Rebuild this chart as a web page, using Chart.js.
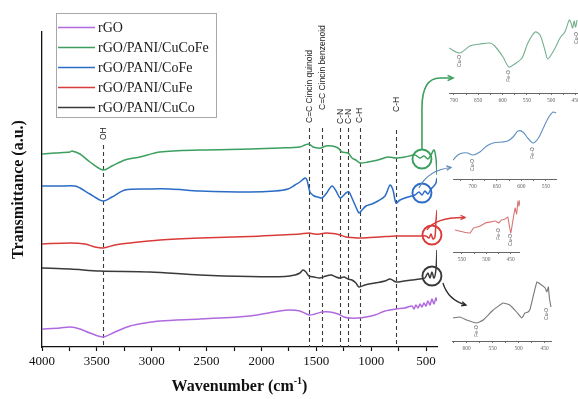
<!DOCTYPE html>
<html>
<head>
<meta charset="utf-8">
<script src="https://cdn.jsdelivr.net/npm/chart.js@4.4.1/dist/chart.umd.min.js"></script>
<style>
  html, body { margin: 0; padding: 0; background: #fff; }
  #wrap { position: relative; width: 578px; height: 399px; overflow: hidden; background: #fff; }
  #wrap canvas { position: absolute; }
</style>
</head>
<body>
<div id="wrap">
  <canvas id="main" width="578" height="399" style="left:0;top:0;width:578px;height:399px"></canvas>
  <canvas id="inG" width="129" height="91" style="left:449px;top:14px;width:129px;height:91px"></canvas>
  <canvas id="inB" width="104" height="86" style="left:453px;top:105px;width:104px;height:86px"></canvas>
  <canvas id="inR" width="67" height="68" style="left:453px;top:196px;width:67px;height:68px"></canvas>
  <canvas id="inK" width="100" height="77" style="left:452px;top:276px;width:100px;height:77px"></canvas>
</div>
<script>
// ---------- FTIR spectra (wavenumber in cm-1, transmittance in a.u., stacked) ----------
const seriesNames = ['rGO', 'rGO/PANI/CuCoFe', 'rGO/PANI/CoFe', 'rGO/PANI/CuFe', 'rGO/PANI/CuCo'];

const rgoWn = [4000,3836,3745,3654,3563,3444,3335,3198,3061,2925,2560,2104,1831,1740,1649,1567,1512,1448,1375,1302,1248,1193,1120,1047,965,874,774,692,628,610,592,573,555,537,519,501,483,464,446,428,410,400];
const rgoT  = [18,19,20,18,14,10,15,21,24,26,28,31,36,37,36,32,33,35,35,33,30,29,29,30,32,36,38,39,41,38,42,39,43,40,44,41,46,42,48,43,49,46];

const cucofeWn = [4000,3882,3745,3727,3654,3563,3444,3362,3244,3107,2925,2560,2104,1831,1649,1603,1567,1530,1485,1457,1412,1357,1302,1266,1211,1175,1139,1102,1029,938,847,774,692,601,555,519,483,455,428,410,400];
const cucofeT  = [193,194,195,196,193,185,177,181,187,190,195,197,198,199,200,202,203,200,199,199,201,201,199,195,194,189,187,184,185,187,190,189,190,192,189,191,188,192,197,189,172];

const cofeWn = [4000,3836,3699,3654,3563,3444,3362,3244,3016,2833,2560,2104,1876,1758,1694,1649,1603,1585,1558,1521,1485,1448,1412,1357,1320,1284,1257,1230,1202,1175,1139,1111,1084,1047,992,938,874,828,801,774,737,664,601,564,537,510,483,455,428,410,400];
const cofeT  = [161,161,161,159,153,146,150,157,158,158,156,155,156,158,162,165,169,167,155,151,150,149,153,161,156,149,151,154,155,149,140,134,137,141,143,146,151,162,157,144,147,150,152,155,152,156,153,158,161,164,169];

const cufeWn = [4000,3745,3608,3517,3444,3335,3198,2925,2560,2104,1831,1649,1567,1521,1467,1412,1348,1284,1230,1175,1102,1011,920,774,646,555,501,473,455,437,419,410,400];
const cufeT  = [103,104,103,100,99,102,104,107,109,110.5,112,113,114,113,113,114,113.5,112,110,109.5,109,109.5,110,111,111,111,111,109,113,108,110,125,137];

const cucoWn = [4000,3745,3471,3016,2560,2104,1785,1694,1649,1621,1594,1567,1521,1467,1412,1366,1320,1284,1248,1211,1175,1139,1111,1056,965,874,828,774,701,628,555,510,483,464,446,428,410,400];
const cucoT  = [79,78,76,75,72,70.5,70.5,72,74,77,75,71,70,69,71,72,70,69,70,68,67,64,60,62,64,66,68,65,66,67,68,69,74,69,75,69,77,97];

// x-axis labels
const xTickLabels = [4000, 3500, 3000, 2500, 2000, 1500, 1000, 500];

// band assignments (dashed guides)
const bandWn     = [3445, 1565, 1450, 1280, 1210, 1105, 770];
const bandLabels = ['OH', 'C=C Cincin quinoid', 'C=C Cincin benzenoid', 'C-N', 'C-N', 'C-H', 'C-H'];

// highlighted low-wavenumber regions, one per composite
const ringWn = [537, 537, 446, 446];
const ringT  = [188, 154, 112, 71];

// enlarged 450-750 cm-1 regions
const zoomCucofeWn = [710,688,667,646,626,616,599,587,575,560,548,533,523,513,507,492,482,472,463,460,456,453,450,447];
const zoomCucofeT  = [45,40,47,49,50,47,36,26,29,35,50,61,58,43,34,45,55,61,73,71,65,72,66,73];
const zoomCofeWn   = [740,730,720,710,699,685,671,658,640,628,617,607,597,587,576,565,555,545,535,529];
const zoomCofeT    = [19,24,26,26,24,27,33,36,37,38,42,48,47,41,36,41,51,61,67,66];
const zoomCufeWn   = [564,547,533,526,512,502,492,481,475,469,461,456,450,446,441,438,435,433,431];
const zoomCufeT    = [22,20,19,24,26,29,30,31,29,32,33,35,19,30,44,38,51,46,52];
const zoomCucoWn   = [626,613,600,581,568,549,530,517,504,494,488,482,478,465,456,449,446,443,441,438];
const zoomCucoT    = [23,24,21,18,21,31,38,36,29,23,28,29,32,59,56,53,49,54,43,34];

// metal-oxygen band labels in the enlarged regions
const mOcucofeWn = [688, 587, 447];  const mOcucofeTxt = ['Cu-O', 'Fe-O', 'Cu-O'];
const mOcofeWn   = [699, 576];       const mOcofeTxt   = ['Cu-O', 'Fe-O'];
const mOcufeWn   = [475, 450];       const mOcufeTxt   = ['Fe-O', 'Cu-O'];
const mOcucoWn   = [581, 446];       const mOcucoTxt   = ['Fe-O', 'Cu-O'];

// ---------- styling ----------
const COLORS = ['#b06ae0', '#3c9f5e', '#2b6cc6', '#d93b3b', '#3a3a3a'];
const ZOOM_COLORS = ['#74b08f', '#5f8fc0', '#d87474', '#777777'];
const SERIF = '"Liberation Serif", "Times New Roman", Times, serif';
const SANS = '"Liberation Sans", Arial, Helvetica, sans-serif';

const bandLineTop = [202, 219, 219, 219, 219, 219, 217];   // where each dashed guide starts (a.u.)
const bandTextEnd = [207, 224, 237, 223, 223, 224, 235];   // lower end of each rotated label (a.u.)

const pairs = (wn, t) => wn.map((w, i) => ({ x: w, y: t[i] }));

// tick marks every `step` inside [lo, hi]
function stepTicks(lo, hi, step) {
  const out = [];
  for (let v = Math.ceil(lo / step) * step; v <= hi; v += step) out.push({ value: v });
  return out;
}

const mainSeries = [
  [rgoWn, rgoT], [cucofeWn, cucofeT], [cofeWn, cofeT], [cufeWn, cufeT], [cucoWn, cucoT]
];

function arrowHead(ctx, x, y, dx, dy, size) {
  const a = Math.atan2(dy, dx);
  ctx.beginPath();
  ctx.moveTo(x - size * Math.cos(a - 0.45), y - size * Math.sin(a - 0.45));
  ctx.lineTo(x, y);
  ctx.lineTo(x - size * Math.cos(a + 0.45), y - size * Math.sin(a + 0.45));
  ctx.stroke();
}

const mainDecor = {
  id: 'mainDecor',
  beforeDatasetsDraw(chart) {
    const { ctx, scales: { x, y }, chartArea } = chart;
    ctx.save();
    ctx.strokeStyle = '#3a3a3a';
    ctx.lineWidth = 1.1;
    ctx.setLineDash([4, 3]);
    bandWn.forEach((wn, i) => {
      const px = Math.round(x.getPixelForValue(wn)) + 0.5;
      ctx.beginPath();
      ctx.moveTo(px, y.getPixelForValue(bandLineTop[i]));
      ctx.lineTo(px, chartArea.bottom);
      ctx.stroke();
    });
    ctx.setLineDash([]);
    ctx.fillStyle = '#222';
    ctx.font = '8.5px ' + SANS;
    ctx.textAlign = 'left';
    ctx.textBaseline = 'middle';
    bandLabels.forEach((t, i) => {
      ctx.save();
      ctx.translate(x.getPixelForValue(bandWn[i]) + 0.5, y.getPixelForValue(bandTextEnd[i]));
      ctx.rotate(-Math.PI / 2);
      ctx.fillText(t, 0, 0);
      ctx.restore();
    });
    ctx.restore();
  },
  afterDatasetsDraw(chart) {
    const { ctx, scales: { x, y } } = chart;
    ctx.save();
    const r = 9.5;
    const centres = ringWn.map((w, i) => [x.getPixelForValue(w), y.getPixelForValue(ringT[i])]);
    centres.forEach(([cx, cy], i) => {
      ctx.strokeStyle = COLORS[i + 1];
      ctx.lineWidth = 1.9;
      ctx.beginPath();
      ctx.arc(cx, cy, r, 0, Math.PI * 2);
      ctx.stroke();
    });
    // leader arrows towards the enlarged regions
    // CuCoFe
    let [cx, cy] = centres[0];
    ctx.strokeStyle = COLORS[1];
    ctx.lineWidth = 1.6;
    ctx.beginPath();
    ctx.moveTo(cx, cy - r);
    ctx.lineTo(cx, 108);
    ctx.quadraticCurveTo(cx, 78, cx + 18, 78);
    ctx.lineTo(453, 78);
    ctx.stroke();
    arrowHead(ctx, 453, 78, 1, 0, 6);
    // CoFe
    [cx, cy] = centres[1];
    ctx.strokeStyle = '#5a86b8';
    ctx.lineWidth = 1.2;
    ctx.beginPath();
    ctx.moveTo(cx - 3, cy - 5);
    ctx.quadraticCurveTo(cx + 6, cy - 23, 451, 167.5);
    ctx.stroke();
    arrowHead(ctx, 451, 167.5, 451 - (cx + 6), 167.5 - (cy - 23), 5);
    // CuFe
    [cx, cy] = centres[2];
    ctx.strokeStyle = COLORS[3];
    ctx.lineWidth = 1.3;
    ctx.beginPath();
    ctx.moveTo(cx - 5, cy - 5);
    ctx.quadraticCurveTo(cx + 4, cy - 18, 465, 217.5);
    ctx.stroke();
    arrowHead(ctx, 465, 217.5, 465 - (cx + 4), 217.5 - (cy - 18), 5);
    // CuCo
    [cx, cy] = centres[3];
    ctx.strokeStyle = '#2a2a2a';
    ctx.lineWidth = 1.3;
    ctx.beginPath();
    ctx.moveTo(cx + 11, cy + 7);
    ctx.quadraticCurveTo(cx + 16, cy + 24, 466, 305);
    ctx.stroke();
    arrowHead(ctx, 466, 305, 466 - (cx + 16), 305 - (cy + 24), 5);
    ctx.restore();
  },
  afterDraw(chart) {
    const { ctx, chartArea } = chart;
    ctx.save();
    // legend
    ctx.fillStyle = '#fff';
    ctx.fillRect(56, 13, 160, 104);
    ctx.strokeStyle = '#a8a8a8';
    ctx.lineWidth = 1;
    ctx.strokeRect(56.5, 13.5, 160, 104);
    ctx.font = '14px ' + SERIF;
    ctx.textBaseline = 'middle';
    ctx.textAlign = 'left';
    chart.data.datasets.forEach((ds, i) => {
      const yy = 27 + i * 20;
      ctx.strokeStyle = ds.borderColor;
      ctx.lineWidth = 1.6;
      ctx.beginPath();
      ctx.moveTo(58, yy + 0.5);
      ctx.lineTo(95, yy + 0.5);
      ctx.stroke();
      ctx.fillStyle = '#1a1a1a';
      ctx.fillText(ds.label, 98, yy + 1);
    });
    // axis titles
    ctx.fillStyle = '#111';
    ctx.font = 'bold 16px ' + SERIF;
    ctx.save();
    ctx.translate(18.5, (chartArea.top + chartArea.bottom) / 2);
    ctx.rotate(-Math.PI / 2);
    ctx.textAlign = 'center';
    ctx.fillText('Transmittance (a.u.)', 0, 0);
    ctx.restore();
    const main = 'Wavenumber (cm';
    const sup = '-1';
    const close = ')';
    ctx.font = 'bold 16px ' + SERIF;
    const w1 = ctx.measureText(main).width;
    const w3 = ctx.measureText(close).width;
    ctx.font = 'bold 10px ' + SERIF;
    const w2 = ctx.measureText(sup).width;
    const total = w1 + w2 + w3;
    const sx = (chartArea.left + chartArea.right) / 2 - total / 2;
    const by = 391;
    ctx.textBaseline = 'alphabetic';
    ctx.textAlign = 'left';
    ctx.font = 'bold 16px ' + SERIF;
    ctx.fillText(main, sx, by);
    ctx.font = 'bold 10px ' + SERIF;
    ctx.fillText(sup, sx + w1, by - 7);
    ctx.font = 'bold 16px ' + SERIF;
    ctx.fillText(close, sx + w1 + w2, by);
    ctx.restore();
  }
};

new Chart(document.getElementById('main'), {
  type: 'line',
  data: {
    datasets: mainSeries.map(([wn, t], i) => ({
      label: seriesNames[i],
      data: pairs(wn, t),
      borderColor: COLORS[i],
      borderWidth: 1.5,
      pointRadius: 0,
      tension: 0.3,
      fill: false
    }))
  },
  options: {
    responsive: false,
    animation: false,
    events: [],
    layout: { padding: { left: 42, right: 141, top: 32, bottom: 0 } },
    plugins: { legend: { display: false }, tooltip: { enabled: false } },
    scales: {
      x: {
        type: 'linear', reverse: true, min: 400, max: 4000,
        afterBuildTicks: s => { s.ticks = stepTicks(s.min, s.max, 250); },
        afterFit: s => { s.height = 52; s.paddingLeft = 0; s.paddingRight = 0; },
        ticks: {
          autoSkip: false, maxRotation: 0, minRotation: 0, padding: 3,
          color: '#111', font: { family: SERIF, size: 13 },
          callback: v => (xTickLabels.includes(v) ? String(v) : '')
        },
        grid: { drawOnChartArea: false, drawTicks: true, tickLength: 4, color: '#111', tickWidth: 1.2 },
        border: { display: true, color: '#111', width: 1.3 }
      },
      y: {
        min: 0, max: 315,
        afterFit: s => { s.width = 0; },
        ticks: { display: false },
        grid: { drawOnChartArea: false, drawTicks: false },
        border: { display: true, color: '#111', width: 1.3 }
      }
    }
  },
  plugins: [mainDecor]
});

// ---------- enlarged regions ----------
function makeZoom(id, wn, t, color, wnMin, wnMax, vMax, lblWn, lblTxt, lblV, tension) {
  const decor = {
    id: 'zoomDecor' + id,
    afterDatasetsDraw(chart) {
      const { ctx, scales: { x, y } } = chart;
      ctx.save();
      ctx.fillStyle = '#555';
      ctx.font = '5px ' + SANS;
      ctx.textAlign = 'center';
      ctx.textBaseline = 'middle';
      lblWn.forEach((w, i) => {
        ctx.save();
        ctx.translate(x.getPixelForValue(w), y.getPixelForValue(lblV[i]));
        ctx.rotate(-Math.PI / 2);
        ctx.fillText(lblTxt[i], 0, 0);
        ctx.restore();
      });
      ctx.restore();
    }
  };
  new Chart(document.getElementById(id), {
    type: 'line',
    data: { datasets: [{ data: pairs(wn, t), borderColor: color, borderWidth: 1.1, pointRadius: 0, tension, fill: false }] },
    options: {
      responsive: false, animation: false, events: [],
      layout: { padding: 0 },
      plugins: { legend: { display: false }, tooltip: { enabled: false } },
      scales: {
        x: {
          type: 'linear', reverse: true, min: wnMin, max: wnMax,
          afterBuildTicks: s => { s.ticks = stepTicks(s.min, s.max, 25); },
          afterFit: s => { s.height = 12; s.paddingLeft = 0; s.paddingRight = 0; },
          ticks: {
            autoSkip: false, maxRotation: 0, minRotation: 0, padding: 2,
            color: '#666', font: { family: SERIF, size: 5.5 },
            callback: v => (v % 50 === 0 ? String(v) : '')
          },
          grid: { drawOnChartArea: false, drawTicks: true, tickLength: 2, color: '#555', tickWidth: 0.8 },
          border: { display: true, color: '#555', width: 0.9 }
        },
        y: { display: false, min: 0, max: vMax }
      }
    },
    plugins: [decor]
  });
}

makeZoom('inG', zoomCucofeWn, zoomCucofeT, ZOOM_COLORS[0], 445, 710, 79, mOcucofeWn, mOcucofeTxt, [32, 17, 55], 0.3);
makeZoom('inB', zoomCofeWn, zoomCofeT, ZOOM_COLORS[1], 527, 740, 74, mOcofeWn, mOcofeTxt, [14, 26], 0.3);
makeZoom('inR', zoomCufeWn, zoomCufeT, ZOOM_COLORS[2], 431, 568, 56, mOcufeWn, mOcufeTxt, [18, 12], 0.1);
makeZoom('inK', zoomCucoWn, zoomCucoT, ZOOM_COLORS[3], 436, 628, 65, mOcucoWn, mOcucoTxt, [10, 27], 0.1);
</script>
</body>
</html>
